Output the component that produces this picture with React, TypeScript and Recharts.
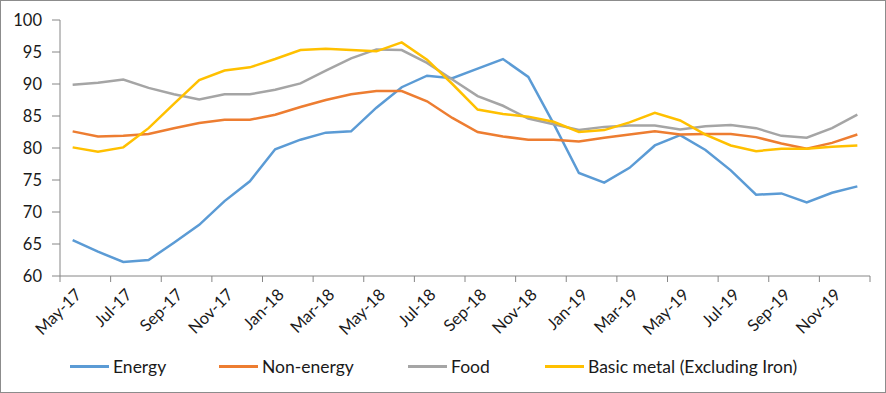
import React from "react";
import { LineChart, Line, XAxis, YAxis, Legend } from "recharts";

const months = [
  "May-17", "Jun-17", "Jul-17", "Aug-17", "Sep-17", "Oct-17", "Nov-17", "Dec-17",
  "Jan-18", "Feb-18", "Mar-18", "Apr-18", "May-18", "Jun-18", "Jul-18", "Aug-18",
  "Sep-18", "Oct-18", "Nov-18", "Dec-18", "Jan-19", "Feb-19", "Mar-19", "Apr-19",
  "May-19", "Jun-19", "Jul-19", "Aug-19", "Sep-19", "Oct-19", "Nov-19", "Dec-19",
];

const energy = [
  65.6, 63.8, 62.2, 62.5, 65.2, 68.0, 71.7, 74.8, 79.8, 81.3, 82.4, 82.6, 86.3, 89.5, 91.3, 90.9,
  92.4, 93.9, 91.1, 83.8, 76.1, 74.6, 76.9, 80.4, 82.0, 79.7, 76.5, 72.7, 72.9, 71.5, 73.0, 74.0,
];

const nonEnergy = [
  82.6, 81.8, 81.9, 82.2, 83.1, 83.9, 84.4, 84.4, 85.2, 86.4, 87.5, 88.4, 88.9, 88.9, 87.3, 84.7,
  82.5, 81.8, 81.3, 81.3, 81.0, 81.6, 82.1, 82.6, 82.1, 82.2, 82.2, 81.7, 80.7, 79.9, 80.8, 82.1,
];

const food = [
  89.9, 90.2, 90.7, 89.4, 88.4, 87.6, 88.4, 88.4, 89.1, 90.1, 92.1, 94.0, 95.4, 95.3, 93.3, 90.7,
  88.1, 86.6, 84.6, 83.7, 82.8, 83.3, 83.5, 83.5, 82.9, 83.4, 83.6, 83.1, 81.9, 81.6, 83.1, 85.2,
];

const basicMetal = [
  80.1, 79.4, 80.1, 83.1, 86.9, 90.6, 92.1, 92.6, 93.9, 95.3, 95.5, 95.3, 95.1, 96.5, 93.8, 90.0,
  86.0, 85.3, 84.9, 84.1, 82.5, 82.8, 84.0, 85.5, 84.3, 82.1, 80.4, 79.5, 79.9, 79.9, 80.2, 80.4,
];

const yTicks = [60, 65, 70, 75, 80, 85, 90, 95, 100];

const series = [
  { key: "energy", name: "Energy", color: "#5B9BD5" },
  { key: "nonEnergy", name: "Non-energy", color: "#ED7D31" },
  { key: "food", name: "Food", color: "#A5A5A5" },
  { key: "basicMetal", name: "Basic metal (Excluding Iron)", color: "#FFC000" },
];

const data = months.map((m, i) => ({
  idx: i,
  month: m,
  energy: energy[i],
  nonEnergy: nonEnergy[i],
  food: food[i],
  basicMetal: basicMetal[i],
}));

// Excel-style tick marks sit between category pairs
const boundaryTicks = Array.from({ length: months.length / 2 + 1 }, (_, k) => k * 2 - 0.5);

const W = 886;
const H = 393;
const MARGIN = { top: 20, right: 16, left: 0, bottom: 0 };
const Y_W = 60;
const HALF_CAT = (W - MARGIN.left - MARGIN.right - Y_W) / months.length / 2;
const FONT = "Lato, 'Open Sans', sans-serif";
const AXIS = "#868686";

const legendLeft = [70, 219, 408, 545];

function MonthTick(props: any) {
  const { x, y, payload } = props;
  const i = Math.round(payload.value + 0.5);
  if (i >= months.length) return null;
  return (
    <g transform={`translate(${x + HALF_CAT + 1},${y + 1})`}>
      <text
        textAnchor="end"
        transform="rotate(-45)"
        dy="0.75em"
        fontSize={16.5}
        fontFamily={FONT}
        fill="#1a1a1a"
      >
        {months[i]}
      </text>
    </g>
  );
}

function LegendContent() {
  return (
    <div style={{ position: "relative", height: 24, fontFamily: FONT, fontSize: 17.5, color: "#1a1a1a" }}>
      {series.map((s, i) => (
        <div
          key={s.key}
          style={{ position: "absolute", left: legendLeft[i], top: 0, display: "flex", alignItems: "center", whiteSpace: "nowrap" }}
        >
          <span style={{ display: "inline-block", width: 39, height: 2.5, background: s.color, marginRight: 4 }} />
          <span>{s.name}</span>
        </div>
      ))}
    </div>
  );
}

export default function App() {
  return (
    <div style={{ position: "absolute", left: 0, top: 0, width: W, height: H, background: "#fff" }}>
      <LineChart width={W} height={H} data={data} margin={MARGIN}>
        <XAxis
          dataKey="idx"
          type="number"
          domain={[-0.5, months.length - 0.5]}
          ticks={boundaryTicks}
          interval={0}
          tick={<MonthTick />}
          tickSize={6}
          tickMargin={4}
          height={93}
          stroke={AXIS}
          axisLine={{ stroke: AXIS }}
          tickLine={{ stroke: AXIS }}
        />
        <YAxis
          domain={[60, 100]}
          ticks={yTicks}
          interval={0}
          width={Y_W}
          tickSize={8}
          tickMargin={10}
          axisLine={{ stroke: AXIS }}
          tickLine={{ stroke: AXIS }}
          tick={{ fontSize: 16.5, fontFamily: FONT, fill: "#1a1a1a" }}
        />
        <Legend
          verticalAlign="bottom"
          content={<LegendContent />}
          wrapperStyle={{ left: 0, width: W, top: 356 }}
        />
        {series.map((s) => (
          <Line
            key={s.key}
            type="linear"
            dataKey={s.key}
            name={s.name}
            stroke={s.color}
            strokeWidth={2.5}
            dot={false}
            isAnimationActive={false}
          />
        ))}
      </LineChart>
      <div
        style={{
          position: "absolute",
          left: 0,
          top: 0,
          width: W,
          height: H,
          boxSizing: "border-box",
          border: "1px solid #8c8c8c",
          pointerEvents: "none",
        }}
      />
    </div>
  );
}
